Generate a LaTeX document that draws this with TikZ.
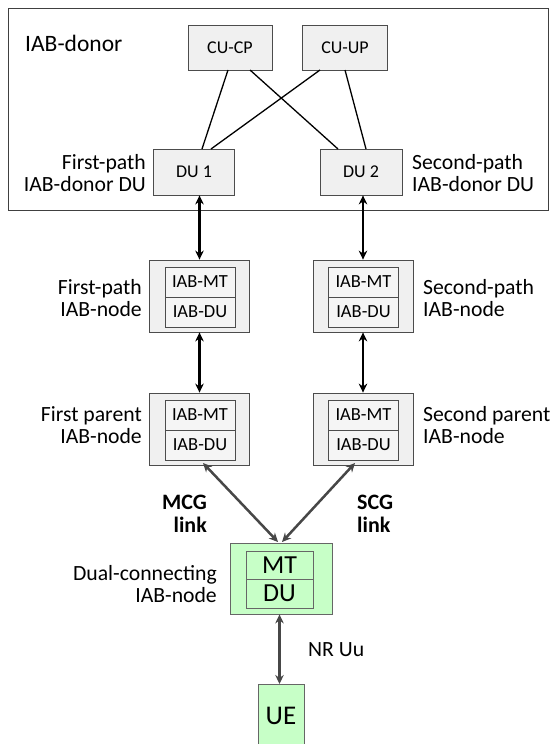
\documentclass[tikz,border=0pt]{standalone}
\usepackage{fontspec}
\setmainfont{Carlito}
\usetikzlibrary{arrows.meta}
\begin{document}
\begin{tikzpicture}[x=1pt,y=-1pt,
  gbox/.style={draw=black!70,fill=black!6,line width=0.8pt,inner sep=0pt},
  bxt/.style={font=\fontsize{18}{18}\selectfont},
  inbox/.style={draw=black!70,fill=black!4,line width=0.8pt,inner sep=0pt,font=\fontsize{18.5}{18.5}\selectfont},
  grbox/.style={draw=black!60,fill=green!22,line width=0.8pt,inner sep=0pt},
  grt/.style={font=\fontsize{26}{26}\selectfont},
  lbl/.style={font=\fontsize{21.7}{22}\selectfont,inner sep=0pt},
  bk/.style={{Stealth[length=9pt,width=8.5pt]}-{Stealth[length=9pt,width=8.5pt]},line width=2.5pt,black},
  gk/.style={{Stealth[length=9pt,width=8.5pt]}-{Stealth[length=9pt,width=8.5pt]},line width=2.5pt,black!72},
  thin/.style={line width=1.3pt,black}]
\useasboundingbox (0,0) rectangle (557,744);
% donor
\node[draw=black!75,line width=0.8pt,minimum width=540pt,minimum height=202pt,inner sep=0pt] (donor) at (278,109) {};
\node[anchor=west,inner sep=0pt,font=\fontsize{23.5}{23.5}\selectfont] (dlbl) at (25,43) {IAB-donor};
\node[gbox,bxt,minimum width=84pt,minimum height=45pt] (cucp) at (230,47.5) {CU-CP};
\node[gbox,bxt,minimum width=85pt,minimum height=45pt] (cuup) at (345,47.5) {CU-UP};
\node[gbox,bxt,minimum width=81pt,minimum height=46pt] (du1) at (194,172) {DU 1};
\node[gbox,bxt,minimum width=82pt,minimum height=46pt] (du2) at (361,172) {DU 2};
\draw[thin] (228,70) -- (202,149);
\draw[thin] (250,70) -- (338,149);
\draw[thin] (320,70) -- (211,149);
\draw[thin] (345,70) -- (366,149);
\node[lbl,anchor=east,align=right] (l1) at (146,173) {First-path\\IAB-donor DU};
\node[lbl,anchor=west,align=left] (l2) at (412,173) {Second-path\\IAB-donor DU};
% path IAB nodes
\node[gbox,minimum width=100pt,minimum height=72pt] (pn1) at (199.5,296) {};
\node[inbox,minimum width=70pt,minimum height=30pt] (pn1mt) at (200,282) {IAB-MT};
\node[inbox,minimum width=70pt,minimum height=30pt] (pn1du) at (200,312) {IAB-DU};
\node[gbox,minimum width=100pt,minimum height=72pt] (pn2) at (363,296) {};
\node[inbox,minimum width=70pt,minimum height=30pt] (pn2mt) at (363.5,282) {IAB-MT};
\node[inbox,minimum width=70pt,minimum height=30pt] (pn2du) at (363.5,312) {IAB-DU};
\node[lbl,anchor=east,align=right] (l3) at (142,298) {First-path\\IAB-node};
\node[lbl,anchor=west,align=left] (l4) at (423,298) {Second-path\\IAB-node};
% parent nodes
\node[gbox,minimum width=100pt,minimum height=72pt] (pa1) at (199.5,429) {};
\node[inbox,minimum width=70pt,minimum height=30pt] (pa1mt) at (200,415) {IAB-MT};
\node[inbox,minimum width=70pt,minimum height=30pt] (pa1du) at (200,445) {IAB-DU};
\node[gbox,minimum width=100pt,minimum height=72pt] (pa2) at (363,429) {};
\node[inbox,minimum width=70pt,minimum height=30pt] (pa2mt) at (363.5,415) {IAB-MT};
\node[inbox,minimum width=70pt,minimum height=30pt] (pa2du) at (363.5,445) {IAB-DU};
\node[lbl,anchor=east,align=right] (l5) at (142,425) {First parent\\IAB-node};
\node[lbl,anchor=west,align=left] (l6) at (423,425) {Second parent\\IAB-node};
% vertical arrows
\draw[bk] (du1.south -| pn1.north) -- (pn1.north);
\draw[bk] (du2.south -| pn2.north) -- (pn2.north);
\draw[bk] (pn1.south) -- (pa1.north);
\draw[bk] (pn2.south) -- (pa2.north);
% dual-connecting
\node[grbox,minimum width=102pt,minimum height=71pt] (dc) at (281,578.5) {};
\node[grbox,grt,minimum width=67pt,minimum height=28pt] (dcmt) at (279.5,565) {MT};
\node[grbox,grt,minimum width=67pt,minimum height=29pt] (dcdu) at (279.5,593.5) {DU};
\node[lbl,anchor=east,align=right] (l7) at (217,584) {Dual-connecting\\IAB-node};
\node[grbox,minimum width=46pt,minimum height=64pt,anchor=north] (ue) at (281,684) {};
\node[inner sep=0pt,font=\fontsize{27}{27}\selectfont] (uet) at (281,716) {UE};
\coordinate (m1) at (203,463);
\coordinate (m2) at (278,542);
\coordinate (s1) at (355,463);
\coordinate (s2) at (282,542);
\draw[gk] (m1) -- (m2);
\draw[gk] (s1) -- (s2);
\draw[gk] (dc.south -| dcdu.south) -- (ue.north -| dcdu.south);
\node[lbl,anchor=east,align=right,font=\fontsize{22}{23}\selectfont\bfseries] (mcg) at (207,514) {MCG\\link};
\node[lbl,anchor=west,align=left,font=\fontsize{22}{23}\selectfont\bfseries] (scg) at (357,514) {SCG\\link};
\node[lbl,anchor=west] (nruu) at (308,650) {NR Uu};
\end{tikzpicture}
\end{document}
